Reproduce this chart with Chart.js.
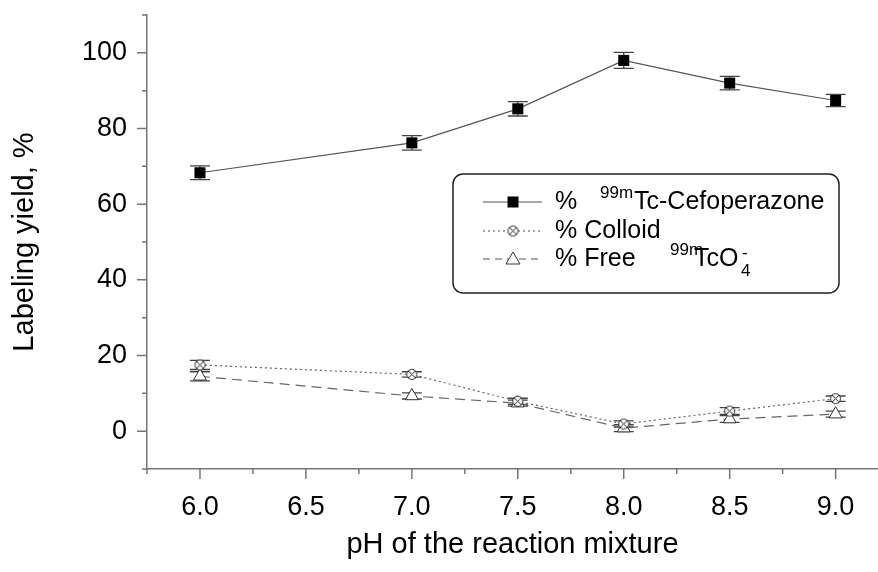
<!DOCTYPE html>
<html>
<head>
<meta charset="utf-8">
<script src="https://cdn.jsdelivr.net/npm/chart.js@4.4.1/dist/chart.umd.min.js"></script>
<style>
  html, body { margin: 0; background: #fff; }
  #wrap { width: 878px; height: 572px; }
</style>
</head>
<body>
<div id="wrap"><canvas id="chart" width="878" height="572"></canvas></div>
<script>
// data
const phValues = [6.0, 7.0, 7.5, 8.0, 8.5, 9.0];
const cefoperazone = [68.3, 76.2, 85.2, 98.0, 92.0, 87.4];
const cefoperazoneErr = [1.8, 1.9, 1.9, 2.1, 1.8, 1.6];
const colloid = [17.5, 15.0, 7.9, 1.9, 5.3, 8.6];
const colloidErr = [1.2, 0.7, 0.8, 0.8, 0.9, 0.7];
const freeTc = [14.5, 9.3, 7.4, 0.8, 3.2, 4.5];
const freeTcErr = [1.2, 0.8, 0.8, 0.9, 0.9, 0.8];

const xTicks = [6.0, 6.5, 7.0, 7.5, 8.0, 8.5, 9.0];
const xMinorTicks = [5.75, 6.25, 6.75, 7.25, 7.75, 8.25, 8.75];
const yTicks = [0, 20, 40, 60, 80, 100];
const yMinorTicks = [-10, 10, 30, 50, 70, 90, 110];

const FONT = "'Liberation Sans', Arial, sans-serif";
const AXIS_COLOR = '#777';

// crossed circle marker for the colloid series
function makeColloidMark() {
    const c = document.createElement('canvas');
    c.width = 13; c.height = 13;
    const g = c.getContext('2d');
    g.strokeStyle = '#222';
    g.lineWidth = 1;
    g.beginPath(); g.arc(6.5, 6.5, 5, 0, Math.PI * 2); g.fillStyle = '#fff'; g.fill(); g.stroke();
    g.beginPath();
    g.moveTo(3, 3); g.lineTo(10, 10);
    g.moveTo(10, 3); g.lineTo(3, 10);
    g.stroke();
    return c;
}
const colloidMark = makeColloidMark();

const toPoints = (ys) => phValues.map((x, i) => ({ x: x, y: ys[i] }));
const errors = [cefoperazoneErr, colloidErr, freeTcErr];

// error bars, drawn under the markers
const errorBars = {
    id: 'errorBars',
    beforeDatasetsDraw(chart) {
        const ctx = chart.ctx;
        const y = chart.scales.y;
        ctx.save();
        ctx.strokeStyle = '#444';
        ctx.lineWidth = 1.3;
        chart.data.datasets.forEach((ds, i) => {
            const meta = chart.getDatasetMeta(i);
            meta.data.forEach((pt, j) => {
                const v = ds.data[j].y;
                const top = y.getPixelForValue(v + errors[i][j]);
                const bot = y.getPixelForValue(v - errors[i][j]);
                ctx.beginPath();
                ctx.moveTo(pt.x, top); ctx.lineTo(pt.x, bot);
                ctx.moveTo(pt.x - 10, top); ctx.lineTo(pt.x + 10, top);
                ctx.moveTo(pt.x - 10, bot); ctx.lineTo(pt.x + 10, bot);
                ctx.stroke();
            });
        });
        ctx.restore();
    }
};

// outward major / minor tick marks
const tickMarks = {
    id: 'tickMarks',
    afterDraw(chart) {
        const ctx = chart.ctx;
        const xs = chart.scales.x, ys = chart.scales.y;
        const area = chart.chartArea;
        ctx.save();
        ctx.strokeStyle = AXIS_COLOR;
        ctx.lineWidth = 1.5;
        ctx.beginPath();
        xTicks.forEach(v => { const p = xs.getPixelForValue(v); ctx.moveTo(p, area.bottom); ctx.lineTo(p, area.bottom + 10); });
        xMinorTicks.forEach(v => { const p = xs.getPixelForValue(v); ctx.moveTo(p, area.bottom); ctx.lineTo(p, area.bottom + 5); });
        yTicks.forEach(v => { const p = ys.getPixelForValue(v); ctx.moveTo(area.left, p); ctx.lineTo(area.left - 10, p); });
        yMinorTicks.forEach(v => { const p = ys.getPixelForValue(v); ctx.moveTo(area.left, p); ctx.lineTo(area.left - 5, p); });
        ctx.stroke();
        ctx.restore();
    }
};

// boxed legend with super/subscripts
const boxLegend = {
    id: 'boxLegend',
    afterDraw(chart) {
        const ctx = chart.ctx;
        ctx.save();
        ctx.strokeStyle = '#222';
        ctx.lineWidth = 1.5;
        ctx.beginPath();
        ctx.roundRect(453, 174, 386, 119, 10);
        ctx.stroke();

        const rows = [202, 231, 259];
        const x0 = 483, x1 = 542, xm = 513;
        ctx.strokeStyle = '#555';
        ctx.lineWidth = 1.2;
        // row 1
        ctx.setLineDash([]);
        ctx.beginPath(); ctx.moveTo(x0, rows[0]); ctx.lineTo(x1, rows[0]); ctx.stroke();
        ctx.fillStyle = '#000';
        ctx.fillRect(xm - 5.5, rows[0] - 5.5, 11, 11);
        // row 2
        ctx.setLineDash([2, 3]);
        ctx.beginPath(); ctx.moveTo(x0, rows[1]); ctx.lineTo(x1, rows[1]); ctx.stroke();
        ctx.setLineDash([]);
        ctx.drawImage(colloidMark, xm - 6.5, rows[1] - 6.5);
        // row 3
        ctx.setLineDash([7, 5]);
        ctx.beginPath(); ctx.moveTo(x0, rows[2]); ctx.lineTo(x1, rows[2]); ctx.stroke();
        ctx.setLineDash([]);
        ctx.beginPath();
        ctx.moveTo(xm, rows[2] - 7); ctx.lineTo(xm + 7, rows[2] + 5); ctx.lineTo(xm - 7, rows[2] + 5); ctx.closePath();
        ctx.fillStyle = '#fff'; ctx.fill();
        ctx.strokeStyle = '#333'; ctx.lineWidth = 1; ctx.stroke();

        ctx.fillStyle = '#000';
        ctx.textBaseline = 'middle';
        ctx.textAlign = 'left';
        const big = '25px ' + FONT, small = '17px ' + FONT;
        ctx.font = big;
        ctx.fillText('%', 555, rows[0]);
        ctx.fillText('Tc-Cefoperazone', 634, rows[0]);
        ctx.fillText('% Colloid', 555, rows[1]);
        ctx.fillText('% Free', 555, rows[2]);
        ctx.fillText('TcO', 694, rows[2]);
        ctx.font = small;
        ctx.fillText('99m', 600, rows[0] - 9);
        ctx.fillText('99m', 670, rows[2] - 9);
        ctx.fillText('-', 742, rows[2] - 6);
        ctx.fillText('4', 741, rows[2] + 12);
        ctx.restore();
    }
};

const lineBase = { borderWidth: 1.2, fill: false, tension: 0 };

new Chart(document.getElementById('chart'), {
    type: 'line',
    data: {
        datasets: [
            Object.assign({}, lineBase, {
                label: '% 99mTc-Cefoperazone',
                data: toPoints(cefoperazone),
                borderColor: '#555',
                pointStyle: 'rect',
                pointRadius: 7.8,
                pointBackgroundColor: '#000',
                pointBorderColor: '#000',
                pointBorderWidth: 0
            }),
            Object.assign({}, lineBase, {
                label: '% Colloid',
                data: toPoints(colloid),
                borderColor: '#666',
                borderDash: [2, 3],
                pointStyle: colloidMark
            }),
            Object.assign({}, lineBase, {
                label: '% Free 99mTcO4-',
                data: toPoints(freeTc),
                borderColor: '#666',
                borderDash: [10, 6],
                pointStyle: 'triangle',
                pointRadius: 7.5,
                pointBackgroundColor: '#fff',
                pointBorderColor: '#333',
                pointBorderWidth: 1
            })
        ]
    },
    options: {
        responsive: false,
        animation: false,
        events: [],
        layout: { autoPadding: false, padding: { top: 15, left: 0, right: 0, bottom: 0 } },
        plugins: { legend: { display: false }, tooltip: { enabled: false } },
        scales: {
            x: {
                type: 'linear',
                min: 5.75,
                max: 9.2,
                afterBuildTicks: (s) => { s.ticks = xTicks.map(v => ({ value: v })); },
                afterFit: (s) => { s.height = 103; s.paddingLeft = 0; s.paddingRight = 0; },
                grid: { display: false, drawTicks: false },
                border: { display: true, color: AXIS_COLOR, width: 1.5 },
                ticks: {
                    padding: 22,
                    color: '#000',
                    font: { family: FONT, size: 27 },
                    callback: (v) => Number(v).toFixed(1)
                },
                title: {
                    display: true,
                    text: 'pH of the reaction mixture',
                    color: '#000',
                    font: { family: FONT, size: 29 },
                    padding: { top: 0, bottom: 10 }
                }
            },
            y: {
                min: -10,
                max: 110,
                afterBuildTicks: (s) => { s.ticks = yTicks.map(v => ({ value: v })); },
                afterFit: (s) => { s.width = 147; s.paddingTop = 0; s.paddingBottom = 0; },
                grid: { display: false, drawTicks: false },
                border: { display: true, color: AXIS_COLOR, width: 1.5 },
                ticks: {
                    padding: 20,
                    color: '#000',
                    font: { family: FONT, size: 27 }
                },
                title: {
                    display: true,
                    text: 'Labeling yield, %',
                    color: '#000',
                    font: { family: FONT, size: 29 },
                    padding: { top: 8, bottom: 0 }
                }
            }
        }
    },
    plugins: [errorBars, tickMarks, boxLegend]
});
</script>
</body>
</html>
